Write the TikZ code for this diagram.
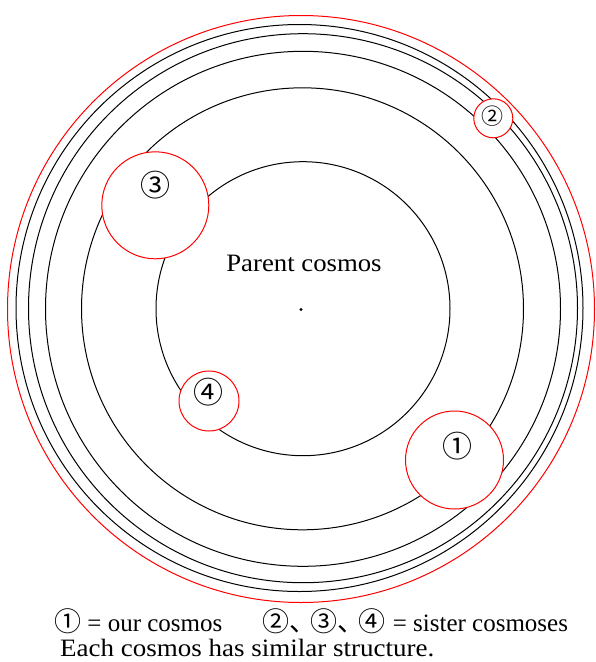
\documentclass[tikz,border=0pt]{standalone}
\usepackage{fontspec}
\setmainfont{Liberation Serif}
\newfontfamily\cjk{Noto Sans CJK JP}
\newcommand{\cnum}[1]{{\cjk\fontsize{27}{27}\selectfont #1}}
\begin{document}
\begin{tikzpicture}[x=1pt,y=-1pt,
  ring/.style={draw=black, circle, inner sep=0pt, outer sep=0pt, line width=1pt, minimum size=#1},
  cosmos/.style={draw=red, circle, inner sep=0pt, outer sep=0pt, line width=1pt, minimum size=#1},
  num/.style={font=\cjk\fontsize{30}{30}\selectfont, inner sep=0pt},
  lbl/.style={font=\fontsize{25}{28}\selectfont, inner sep=0pt}]
\useasboundingbox (0,0) rectangle (595,662);
% parent cosmos rings
\node[cosmos=587pt] (outer) at (301,309) {};
\node[ring=567pt] (r1) at (299.5,308) {};
\node[ring=549pt] (r2) at (303,308.2) {};
\node[ring=515pt] (r3) at (303,308.8) {};
\node[ring=442pt] (r4) at (302.5,308.8) {};
\node[ring=294pt] (r5) at (303,308.7) {};
\fill (301,309.5) circle (1.6pt);
\node[lbl] (parent) at (304,263) {\scalebox{1.07}[1]{Parent cosmos}};
% cosmoses
\node[cosmos=98pt, fill=white] (c1) at (454.5,460) {};
\node[num] (n1) at (457,446.5) {①};
\node[cosmos=39pt, fill=white] (c2) at (493.3,118.3) {};
\node[num, font=\cjk\fontsize{22}{22}\selectfont] (n2) at (492.5,116.5) {②};
\node[cosmos=107pt, fill=white] (c3) at (155.3,205.3) {};
\node[num] (n3) at (155.5,185) {③};
\node[cosmos=60pt, fill=white] (c4) at (209,401) {};
\node[num] (n4) at (208.5,392) {④};
% legend
\node[lbl, anchor=base west] (leg1) at (54,631) {\cnum{①} = our cosmos};
\node[lbl, anchor=base west] (leg2) at (262,631) {\cnum{②、\kern-0.22em③、\kern-0.22em④}\kern0.05em{} = sister cosmoses};
\node[lbl, anchor=base west] (leg3) at (60,656) {\scalebox{1.08}[1]{Each cosmos has similar structure.}};
\end{tikzpicture}
\end{document}
